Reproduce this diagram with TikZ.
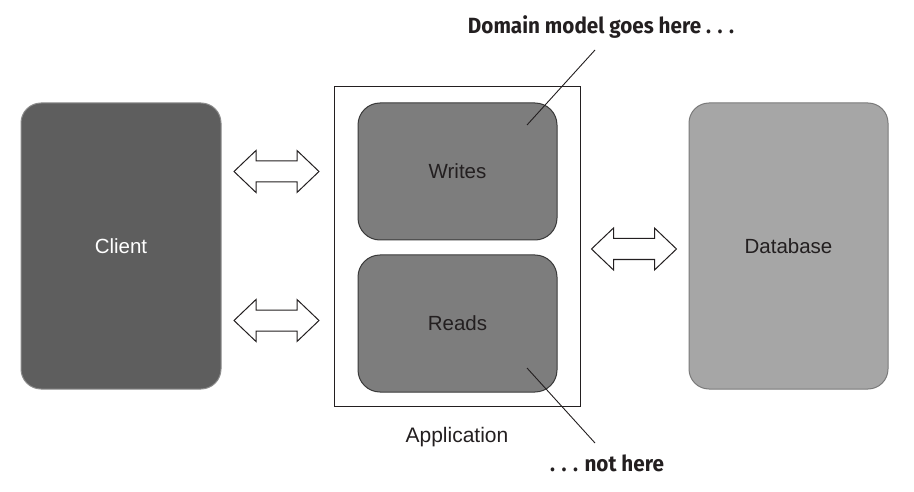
\documentclass[tikz,border=0pt]{standalone}
\usepackage{fontspec}
\setmainfont{Liberation Sans}
\newfontfamily\calloutfont[FakeStretch=0.94]{Fira Sans}
\usetikzlibrary{calc}
\definecolor{clientfill}{HTML}{5E5E5E}
\definecolor{clientline}{HTML}{8C8C8C}
\definecolor{partfill}{HTML}{7D7D7D}
\definecolor{partline}{HTML}{3A3A3A}
\definecolor{dbfill}{HTML}{A6A6A6}
\definecolor{dbline}{HTML}{7A7A7A}
\definecolor{inkblack}{HTML}{231F20}
\tikzset{
  box/.style={rounded corners=20pt, line width=1pt, inner sep=0pt, font=\fontsize{20.5}{24}\selectfont},
  clientbox/.style={box, fill=clientfill, draw=clientline, text=white, minimum width=200pt, minimum height=286pt},
  partbox/.style={box, rounded corners=22pt, fill=partfill, draw=partline, text=inkblack, minimum width=199pt, minimum height=137pt},
  dbbox/.style={box, fill=dbfill, draw=dbline, text=inkblack, minimum width=199pt, minimum height=286pt},
  appbox/.style={draw=inkblack, line width=1pt, minimum width=246pt, minimum height=319pt, inner sep=0pt},
  applabel/.style={font=\fontsize{21}{24}\selectfont, text=inkblack},
  callout/.style={font=\calloutfont\bfseries\fontsize{22}{26}\selectfont, text=inkblack, inner sep=0pt},
  leader/.style={draw=inkblack, line width=0.9pt},
  dblarrow/.style={draw=inkblack, line width=1pt, fill=white, line join=miter}
}
\newcommand{\dblarrowat}[1]{%
  \draw[dblarrow] ($(#1)+(-42.5,0)$) -- ++(22,21) -- ++(0,-10.5) -- ++(41,0) -- ++(0,10.5)
    -- ++(22,-21) -- ++(-22,-21) -- ++(0,10.5) -- ++(-41,0) -- ++(0,-10.5) -- cycle;}
\begin{document}
\begin{tikzpicture}[x=1pt,y=-1pt]
\useasboundingbox (0,0) rectangle (914,492);
\node[clientbox] (client) at (121,246) {Client};
\node[appbox] (app) at (457,246.5) {};
\node[partbox] (writes) at (457.5,171.5) {Writes};
\node[partbox] (reads) at (457.5,323.5) {Reads};
\node[dbbox] (db) at (788.5,246) {Database};
\node[applabel] (applbl) at (457,437) {Application};
\coordinate (a1) at (276.5,171.5);
\coordinate (a2) at (276.5,320.5);
\coordinate (a3) at (634,249);
\dblarrowat{a1}
\dblarrowat{a2}
\dblarrowat{a3}
\node[callout] (dm) at (601,27) {Domain model goes here . . .};
\node[callout] (nh) at (607,463) {. . . not here};
\coordinate (dmend) at (527,125);
\coordinate (nhend) at (527,368);
\coordinate (dmstart) at (595,50);
\coordinate (nhstart) at (595,443);
\draw[leader] (dmstart) -- (dmend);
\draw[leader] (nhstart) -- (nhend);
\end{tikzpicture}
\end{document}
